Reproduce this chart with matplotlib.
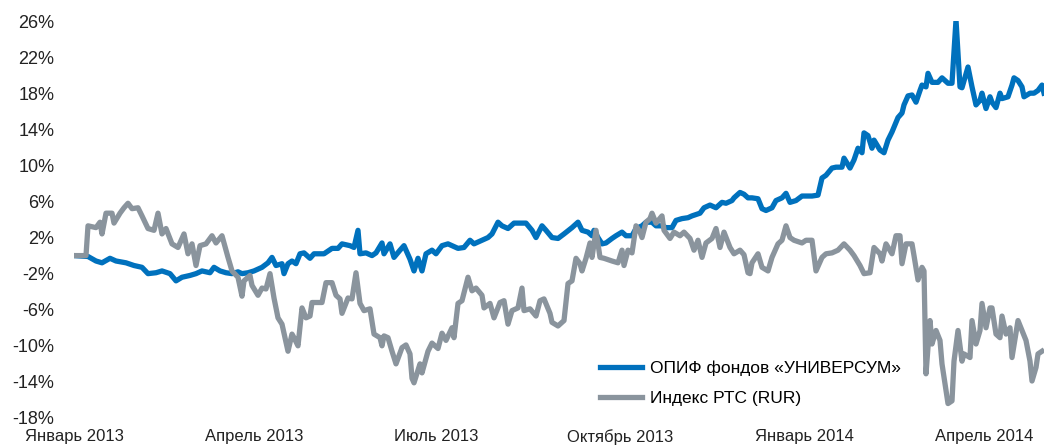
import numpy as np
import matplotlib
matplotlib.use("Agg")
import matplotlib.pyplot as plt

plt.rcParams["font.family"] = ["Liberation Sans", "DejaVu Sans"]

# days since 2013-01-01, values in %
fund_days = [0, 7, 11, 14, 18, 21, 26, 30, 34, 37, 41, 44, 48, 51, 54, 58, 61, 64, 68, 70,
             73, 76, 79, 82, 84, 87, 90, 94, 97, 99, 101, 104, 105, 107, 109, 111, 113, 115,
             118, 120, 125, 129, 132, 134, 138, 140, 142, 143, 146, 149, 151, 154, 155, 158,
             160, 163, 165, 168, 170, 172, 174, 176, 179, 181, 184, 187, 189, 192, 195, 198,
             200, 204, 207, 209, 212, 214, 217, 220, 224, 226, 229, 231, 234, 236, 239, 242,
             245, 249, 252, 254, 257, 259, 260, 262, 264, 266, 269, 271, 274, 276, 279, 281,
             284, 286, 289, 291, 294, 296, 299, 301, 304, 307, 309, 313, 315, 318, 321, 324,
             326, 329, 330, 333, 335, 337, 339, 342, 344, 346, 349, 351, 354, 356, 358, 361,
             364, 369, 372, 374, 376, 379, 381, 384, 385, 388, 390, 392, 394, 395, 397, 399,
             400, 403, 405, 407, 409, 412, 414, 415, 417, 419, 421, 423, 424, 426, 427, 429,
             432, 434, 437, 439, 441, 443, 444, 447, 449, 451, 453, 454, 456, 458, 459, 461,
             463, 464, 467, 469, 470, 472, 474, 475, 478, 480, 482, 484, 485]
fund_vals = [0.0, -0.1, -0.6, -0.8, -0.3, -0.6, -0.8, -1.1, -1.3, -2.0, -1.9, -1.7, -2.0, -2.8,
             -2.4, -2.2, -2.0, -1.7, -1.9, -1.3, -1.7, -1.9, -2.0, -1.8, -2.0, -1.9, -1.7, -1.3,
             -0.8, -0.2, -1.1, -0.9, -2.0, -0.9, -0.6, -0.9, 0.2, 0.3, -0.3, 0.2, 0.2, 0.8, 0.8,
             1.3, 1.1, 0.9, 2.8, 0.2, 0.3, 0.0, 0.3, 1.4, 0.2, 1.3, -0.2, 0.6, 1.1, -0.4, -1.7,
             -0.3, -1.7, 0.2, 0.6, 0.2, 1.1, 1.3, 1.1, 0.8, 0.9, 1.7, 1.3, 1.7, 2.0, 2.4, 3.7,
             3.3, 3.0, 3.6, 3.6, 3.6, 2.8, 2.0, 3.3, 2.8, 2.0, 1.9, 2.4, 3.1, 3.7, 2.8, 2.6, 2.2,
             2.8, 2.0, 1.3, 1.4, 1.9, 2.2, 2.6, 2.2, 2.2, 3.0, 3.3, 3.7, 3.7, 3.3, 3.3, 3.1, 3.1,
             3.9, 4.1, 4.2, 4.4, 4.7, 5.3, 5.6, 5.3, 5.9, 5.8, 6.1, 6.4, 7.0, 6.8, 6.4, 6.4, 6.3,
             5.2, 5.0, 5.3, 6.1, 6.4, 6.9, 5.9, 6.1, 6.6, 6.6, 6.7, 8.6, 8.9, 9.7, 9.8, 9.8, 10.8,
             9.7, 10.6, 11.9, 11.4, 13.6, 13.3, 11.9, 12.8, 11.7, 11.4, 12.8, 13.7, 15.3, 15.8,
             16.7, 17.7, 17.8, 17.0, 18.3, 18.9, 18.7, 20.2, 19.2, 19.2, 19.7, 19.1, 19.1, 26.1,
             18.7, 18.6, 20.9, 18.7, 16.7, 17.2, 18.0, 16.3, 17.6, 17.0, 16.4, 18.0, 17.4, 17.6,
             18.9, 19.7, 19.4, 18.7, 17.6, 18.0, 18.0, 18.3, 18.9, 18.0]

rts_days = [0, 6, 7, 11, 13, 14, 16, 19, 20, 23, 25, 27, 29, 32, 34, 37, 40, 42, 44, 46, 49,
            52, 55, 57, 59, 61, 63, 66, 69, 71, 74, 77, 79, 82, 84, 85, 88, 89, 92, 94, 96, 98,
            100, 102, 104, 107, 109, 110, 112, 114, 116, 118, 119, 124, 126, 129, 131, 133,
            134, 137, 139, 141, 143, 145, 148, 150, 153, 154, 155, 157, 159, 161, 164, 166,
            168, 169, 170, 173, 174, 177, 179, 182, 184, 186, 189, 190, 192, 194, 197, 199,
            201, 204, 205, 208, 210, 213, 215, 217, 219, 222, 224, 225, 228, 231, 233, 235,
            238, 239, 242, 245, 247, 249, 251, 253, 254, 256, 258, 259, 261, 263, 265, 269,
            272, 274, 275, 277, 279, 281, 283, 284, 286, 288, 289, 291, 294, 295, 298, 300,
            303, 305, 308, 310, 312, 314, 316, 319, 321, 323, 325, 328, 330, 333, 335, 337,
            338, 339, 342, 344, 347, 349, 352, 354, 356, 358, 360, 364, 366, 369, 371, 374,
            376, 379, 382, 385, 388, 390, 393, 395, 398, 400, 403, 404, 406, 409, 411, 413,
            414, 416, 419, 420, 422, 424, 425, 426, 428, 429, 431, 433, 434, 437, 439, 440,
            442, 444, 445, 448, 449, 451, 453, 454, 456, 458, 459, 461, 463, 464, 466, 468,
            469, 472, 474, 476, 478, 479, 481, 482, 484]
rts_vals = [0.0, 0.0, 3.3, 3.1, 3.7, 2.4, 4.7, 4.7, 3.6, 4.7, 5.3, 5.8, 5.2, 5.3, 4.4, 3.0,
            2.8, 4.7, 2.4, 3.0, 1.3, 0.9, 2.4, 0.2, 1.3, -1.1, 1.1, 1.3, 2.2, 1.4, 2.2, -0.2,
            -1.7, -2.4, -4.5, -2.8, -2.2, -3.3, -4.4, -3.6, -3.7, -2.0, -4.7, -6.9, -7.6,
            -10.6, -8.7, -9.1, -10.0, -5.8, -6.9, -6.7, -5.2, -5.2, -3.0, -3.0, -4.4, -4.8,
            -6.4, -4.7, -4.8, -1.9, -5.3, -6.1, -5.9, -8.7, -9.1, -10.0, -8.9, -9.1, -10.6,
            -12.0, -10.2, -9.9, -10.9, -13.6, -14.1, -12.0, -13.0, -10.6, -9.7, -10.3, -8.6,
            -9.4, -8.0, -9.1, -5.3, -5.0, -2.4, -3.9, -3.6, -4.4, -5.8, -5.3, -6.9, -5.2, -5.0,
            -7.6, -6.1, -5.8, -3.6, -6.1, -5.9, -6.7, -5.0, -4.8, -6.4, -7.4, -7.8, -7.2, -3.1,
            -2.8, -0.3, -0.9, -1.7, -0.3, 1.4, -0.2, 2.8, -0.2, -0.3, -0.6, -0.8, 0.6, -1.1,
            0.6, 0.3, 3.3, 2.6, 2.0, 3.7, 4.1, 4.7, 3.6, 4.4, 2.8, 1.9, 2.6, 2.2, 2.6, 1.9, 0.6,
            1.7, -0.2, 1.4, 1.9, 3.0, 0.9, 2.6, 0.9, 0.2, 0.6, 0.1, -1.9, -2.0, -0.8, 0.2, -1.3,
            -1.7, -0.2, 1.3, 1.7, 3.3, 2.0, 1.7, 1.4, 1.7, 1.7, -1.7, -0.2, 0.2, 0.3, 0.6, 1.3,
            0.6, 0.0, -1.1, -2.0, -1.9, 0.9, 0.2, -0.6, 1.3, 0.2, 2.2, 2.2, -0.9, 1.3, 1.3, 0.0,
            -2.7, -1.3, -1.7, -13.1, -7.2, -9.8, -8.3, -9.4, -12.0, -16.4, -16.1, -11.7, -8.3,
            -11.7, -10.9, -11.3, -7.2, -9.8, -8.3, -5.3, -8.0, -5.8, -5.8, -8.7, -9.1, -6.7,
            -8.7, -8.0, -11.3, -7.2, -8.3, -9.4, -11.7, -13.9, -12.4, -10.9, -10.6]

tick_dates = ["2013-01-01", "2013-04-01", "2013-07-01", "2013-10-01", "2014-01-01", "2014-04-01"]
tick_labels = ["Январь 2013", "Апрель 2013", "Июль 2013", "Октябрь 2013", "Январь 2014", "Апрель 2014"]
y_ticks = [26, 22, 18, 14, 10, 6, 2, -2, -6, -10, -14, -18]

start = np.datetime64("2013-01-01")
fund_x = start + np.array(fund_days).astype("timedelta64[D]")
rts_x = start + np.array(rts_days).astype("timedelta64[D]")

fig = plt.figure(figsize=(10.44, 4.45), dpi=100)
ax = fig.add_axes([74 / 1044, 27 / 445, 970 / 1044, 397 / 445])

blue = "#0071BD"
grey = "#8A949D"
ax.plot(fund_x, fund_vals, color=blue, lw=3.8, solid_joinstyle="round",
        label="ОПИФ фондов «УНИВЕРСУМ»", zorder=2)
ax.plot(rts_x, rts_vals, color=grey, lw=3.8, solid_joinstyle="round",
        label="Индекс РТС (RUR)", zorder=3)

ax.set_xlim(start, start + np.timedelta64(485, "D"))
ax.set_ylim(-18, 26)
ax.set_yticks(y_ticks)
ax.set_yticklabels([f"{v}%" for v in y_ticks], fontsize=13, color="#222222")
ax.set_xticks(np.array(tick_dates, dtype="datetime64[D]"))
ax.set_xticklabels(tick_labels, fontsize=12, color="#222222")
ax.tick_params(axis="y", length=0, pad=14)
ax.tick_params(axis="x", length=0, pad=8)
for s in ax.spines.values():
    s.set_visible(False)

ax.legend(loc="upper left", bbox_to_anchor=(526 / 970, 1 - 340 / 397), frameon=False,
          fontsize=12.5, handlelength=2.4, handletextpad=0.5, labelspacing=0.85,
          borderpad=0, borderaxespad=0)

fig.savefig("out.png", dpi=100)
